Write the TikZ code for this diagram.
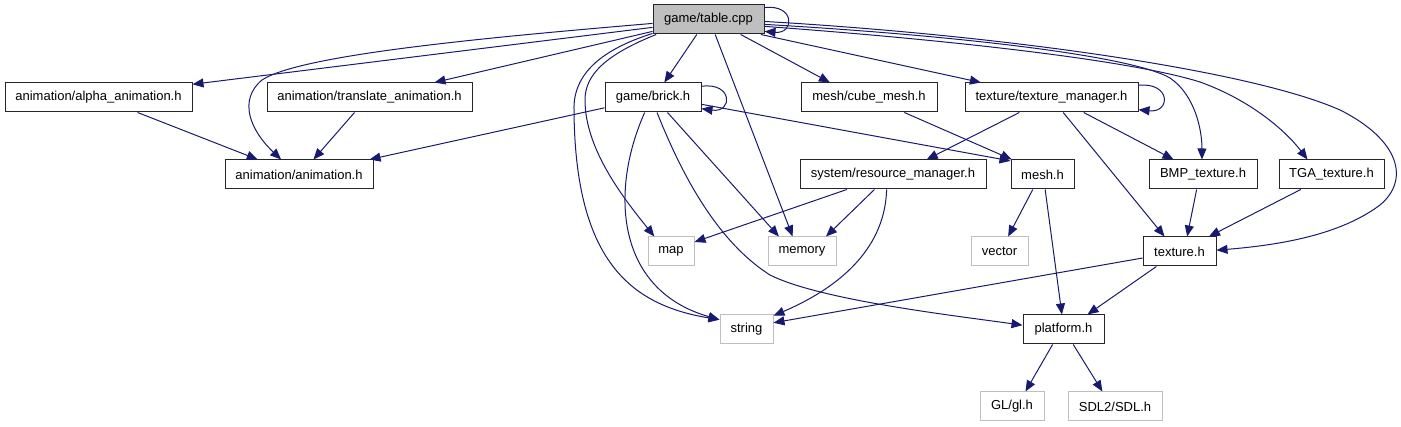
\documentclass[tikz,border=0pt]{standalone}
\usepackage{fontspec}
\setmainfont{Liberation Sans}
\usepackage{xcolor}
\usepackage{tikz}
\usetikzlibrary{arrows.meta}
\definecolor{edgeblue}{HTML}{191970}
\definecolor{rootgray}{HTML}{BFBFBF}
\definecolor{sysgray}{HTML}{BFBFBF}

\begin{document}
\begin{tikzpicture}[
  x=1pt, y=-1pt,
  every node/.style={font=\fontsize{13}{15}\selectfont, text=black},
  hdr/.style={
    rectangle, draw=black!85, line width=1pt, fill=white,
    minimum height=29pt, inner sep=0pt
  },
  root/.style={hdr, fill=rootgray},
  sys/.style={hdr, draw=sysgray},
  dep/.style={-{Triangle[length=11pt,width=9pt]}, line width=1pt, draw=edgeblue},
]
\useasboundingbox (0,0) rectangle (1401,427);

% Top: the file itself
\node[root, minimum width=111pt] (table)     at (708.5,19.5)  {game/table.cpp};

% Row 1: direct includes
\node[hdr, minimum width=187pt] (alpha)      at (98.5,97.5)   {animation/alpha\_animation.h};
\node[hdr, minimum width=205pt] (translate)  at (369.5,97.5)  {animation/translate\_animation.h};
\node[hdr, minimum width=96pt]  (brick)      at (653,97.5)    {game/brick.h};
\node[hdr, minimum width=136pt] (cubemesh)   at (869,97.5)    {mesh/cube\_mesh.h};
\node[hdr, minimum width=173pt] (texmgr)     at (1051.5,97.5) {texture/texture\_manager.h};

% Row 2
\node[hdr, minimum width=148pt] (animation)  at (299,174.5)   {animation/animation.h};
\node[hdr, minimum width=186pt] (resmgr)     at (893,174.5)   {system/resource\_manager.h};
\node[hdr, minimum width=63pt]  (mesh)       at (1042.5,174.5){mesh.h};
\node[hdr, minimum width=108pt] (bmp)        at (1203,174.5)  {BMP\_texture.h};
\node[hdr, minimum width=105pt] (tga)        at (1331.5,174.5){TGA\_texture.h};

% Row 3
\node[sys, minimum width=46pt]  (map)        at (671,251.5)   {map};
\node[sys, minimum width=68pt]  (memory)     at (802,251.5)   {memory};
\node[sys, minimum width=57pt]  (vector)     at (999.5,251.5) {vector};
\node[hdr, minimum width=73pt]  (texture)    at (1179.5,251.5){texture.h};

% Row 4 and 5
\node[sys, minimum width=53pt]  (string)     at (746.5,329.5) {string};
\node[hdr, minimum width=81pt]  (platform)   at (1063.5,329.5){platform.h};
\node[sys, minimum width=64pt]  (gl)         at (1012,406.5)  {GL/gl.h};
\node[sys, minimum width=94pt]  (sdl)        at (1115,406.5)  {SDL2/SDL.h};

% table.cpp ──► everything it pulls in
\draw[dep] (table.188) -- (alpha.8);
\draw[dep] (table.184) .. controls (480,38) and (300,55) .. (262,80)
                       .. controls (238,100) and (250,130) .. (animation.140);
\draw[dep] (table.192) -- (translate.13);
\draw[dep] (table.12) .. controls (795,4) and (795,34) .. (table.-12);
\draw[dep] (table.232) -- (brick.53);
\draw[dep] (table.196) .. controls (605,55) and (585,75) .. (585,100)
                       .. controls (585,150) and (625,200) .. (map.138);
\draw[dep] (table.194) .. controls (600,50) and (573,75) .. (574,110)
                       .. controls (575,260) and (630,305) .. (string.160);
\draw[dep] (table.-66) -- (memory.122);
\draw[dep] (table.-25) -- (cubemesh.159);
\draw[dep] (table.-16) -- (texmgr.168);
\draw[dep] (table.-5) .. controls (950,35) and (1130,55) .. (1170,78)
                      .. controls (1195,95) and (1202,130) .. (bmp.94);
\draw[dep] (table.-7) .. controls (950,40) and (1130,60) .. (1200,82)
                      .. controls (1250,100) and (1285,130) .. (tga.148);
\draw[dep] (table.-2) .. controls (1000,35) and (1250,70) .. (1340,110)
                      .. controls (1400,140) and (1410,180) .. (1380,205)
                      .. controls (1340,235) and (1280,245) .. (texture.2);

% animation headers
\draw[dep] (alpha.-21) -- (animation.160);
\draw[dep] (translate.-135) -- (animation.46);

% game/brick.h
\draw[dep] (brick.192) -- (animation.12);
\draw[dep] (brick.13) .. controls (733,82) and (733,113) .. (brick.-13);
\draw[dep] (brick.241) .. controls (610,190) and (615,290) .. (string.160);
\draw[dep] (brick.-46) -- (memory.147);
\draw[dep] (brick.-75) .. controls (680,170) and (715,240) .. (770,275)
                       .. controls (820,300) and (950,315) .. (platform.174);
\draw[dep] (brick.-8) -- (mesh.157);

% mesh and texture managers
\draw[dep] (cubemesh.-23) -- (mesh.154);
\draw[dep] (texmgr.8) .. controls (1171,82) and (1171,113) .. (texmgr.-8);
\draw[dep] (texmgr.205) -- (resmgr.24);
\draw[dep] (texmgr.-25) -- (bmp.153);
\draw[dep] (texmgr.-52) -- (texture.135);

% system/resource_manager.h
\draw[dep] (resmgr.198) -- (map.22);
\draw[dep] (resmgr.219) -- (memory.32);
\draw[dep] (resmgr.247) .. controls (885,245) and (845,285) .. (string.27);

% mesh.h
\draw[dep] (mesh.237) -- (vector.60);
\draw[dep] (mesh.-80) -- (platform.96);

% textures
\draw[dep] (bmp.247) -- (texture.63);
\draw[dep] (tga.206) -- (texture.27);
\draw[dep] (texture.190) -- (string.14);
\draw[dep] (texture.213) -- (platform.32);

% platform.h
\draw[dep] (platform.234) -- (gl.48);
\draw[dep] (platform.-57) -- (sdl.130);
\end{tikzpicture}
\end{document}
